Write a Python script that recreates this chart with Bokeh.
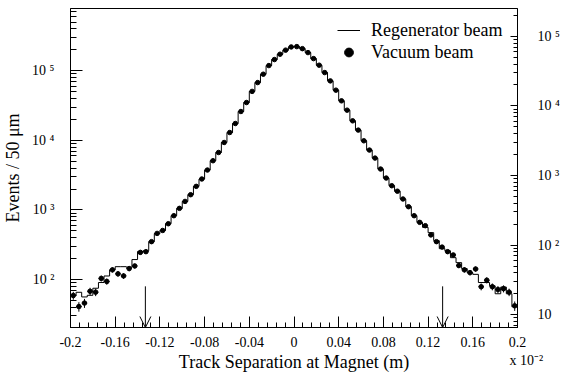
from bokeh.plotting import figure
from bokeh.models import (Range1d, LogAxis, LogScale, FixedTicker, Legend, LegendItem,
                          Arrow, OpenHead, CustomJSTickFormatter)
from bokeh.embed import file_html
from bokeh.resources import INLINE
import numpy as np

# ---- data (x in units of 10^-2 m, 50 um bins) ----
bin_start = -0.2
bin_width = 0.005
vacuum_counts = [59, 41, 46, 68, 66, 104, 94, 138, 121, 113,
                 144, 157, 246, 252, 351, 461, 508, 635, 828, 1055,
                 1328, 1658, 2185, 2788, 3750, 5100, 6700, 9330, 12980, 17470,
                 26000, 35000, 50600, 67700, 89300, 118800, 145000, 173000, 198000, 220000,
                 222500, 208000, 182500, 149600, 120300, 94200, 71600, 52700, 37000, 27200,
                 19100, 14050, 9870, 7260, 5570, 3875, 2877, 2232, 1862, 1439,
                 1114, 828, 664, 595, 438, 351, 293, 252, 226, 159,
                 138, 126, 142, 79, 98, 79, 72, 74, 66, 42]
regenerator_counts = [19, 21, 18, 19, 24, 29, 36, 44, 49, 49,
                      48, 62, 81, 83, 112, 146, 162, 203, 265, 337,
                      424, 530, 698, 891, 1198, 1629, 2141, 2981, 4147, 5581,
                      8307, 11182, 16166, 21629, 28530, 37955, 46326, 55272, 63259, 70288,
                      71086, 66454, 58307, 47796, 38435, 30096, 22875, 16837, 11821, 8690,
                      6102, 4489, 3153, 2319, 1780, 1238, 919, 713, 595, 460,
                      356, 265, 212, 180, 151, 116, 89, 83, 66, 56,
                      46, 40, 38, 29, 29, 26, 20, 25, 20, 13]
x_ticks = [-0.2, -0.16, -0.12, -0.08, -0.04, 0.0, 0.04, 0.08, 0.12, 0.16, 0.2]
x_tick_labels = ["-0.2", "-0.16", "-0.12", "-0.08", "-0.04", "0",
                 "0.04", "0.08", "0.12", "0.16", "0.2"]
x_multiplier = "x 10\u207b\u00b2"
left_ticks = [1e2, 1e3, 1e4, 1e5]
left_tick_labels = ["10 \u00b2", "10 \u00b3", "10 \u2074", "10 \u2075"]
right_ticks = [1e1, 1e2, 1e3, 1e4, 1e5]
right_tick_labels = ["10", "10 \u00b2", "10 \u00b3", "10 \u2074", "10 \u2075"]
cut_positions = [-0.133, 0.133]
cut_arrow_top = 80

FONT = "Liberation Serif"

n = len(vacuum_counts)
edges = bin_start + bin_width * np.arange(n + 1)
centers = 0.5 * (edges[:-1] + edges[1:])
vac = np.array(vacuum_counts, dtype=float)
reg = np.array(regenerator_counts, dtype=float)
verr = np.sqrt(vac)


def lookup_formatter(tvals, tlabels, log=False):
    cmp = ("Math.abs(Math.log10(tv[i]) - Math.log10(tick)) < 1e-6" if log
           else "Math.abs(tv[i] - tick) < 1e-9")
    return CustomJSTickFormatter(args=dict(tv=tvals, tl=tlabels), code=f"""
        for (let i = 0; i < tv.length; i++) {{ if ({cmp}) return tl[i]; }}
        return "";
    """)


p = figure(width=567, height=377, output_backend="svg", toolbar_location=None,
           x_range=Range1d(-0.2, 0.2), y_range=Range1d(20.5, 7.85e5),
           y_axis_type="log",
           min_border_left=66, min_border_right=50, min_border_top=8, min_border_bottom=50)
p.extra_y_ranges = {"regen": Range1d(6.55, 2.51e5)}
p.extra_y_scales = {"regen": LogScale()}

p.grid.visible = False
p.outline_line_color = "black"
p.outline_line_width = 1
p.background_fill_color = "white"
p.border_fill_color = "white"

# x axis: the axis multiplier sits on a second line under the last tick label
xlabels_shown = list(x_tick_labels)
xlabels_shown[-1] = x_tick_labels[-1] + "\n" + "\u00a0" * 5 + x_multiplier
xminor = [round(v, 4) for v in np.arange(-0.2, 0.2001, 0.008)]
xa = p.xaxis[0]
xa.ticker = FixedTicker(ticks=x_ticks, minor_ticks=xminor)
xa.formatter = lookup_formatter(x_ticks, xlabels_shown)
xa.axis_label = "Track Separation at Magnet (m)"

# left y axis
lminor = [m * 10 ** e for e in range(1, 6) for m in range(2, 10)]
ya = p.yaxis[0]
ya.ticker = FixedTicker(ticks=left_ticks, minor_ticks=lminor)
ya.formatter = lookup_formatter(left_ticks, left_tick_labels, log=True)
ya.axis_label = "Events / 50 \u03bcm"

# right y axis
rminor = [m * 10 ** e for e in range(0, 6) for m in range(2, 10)]
ra = LogAxis(y_range_name="regen",
             ticker=FixedTicker(ticks=right_ticks, minor_ticks=rminor),
             formatter=lookup_formatter(right_ticks, right_tick_labels, log=True))
p.add_layout(ra, "right")

for ax in [xa, ya, ra]:
    ax.axis_line_color = "black"
    ax.major_tick_line_color = "black"
    ax.minor_tick_line_color = "black"
    ax.major_tick_out = 0
    ax.minor_tick_out = 0
    ax.major_label_text_font = FONT
    ax.major_label_text_font_size = "14px"
    ax.major_label_text_color = "black"
    ax.axis_label_text_font = FONT
    ax.axis_label_text_font_size = "18px"
    ax.axis_label_text_font_style = "normal"
    ax.axis_label_text_color = "black"

xa.major_tick_in = 11
xa.minor_tick_in = 5
xa.major_label_standoff = 7
xa.axis_label_standoff = -19
ya.major_tick_in = 12
ya.minor_tick_in = 6
ya.major_label_standoff = 16
ya.axis_label_standoff = 6
ra.major_tick_in = 7
ra.minor_tick_in = 4
ra.major_label_standoff = 20
ra.major_label_orientation = "horizontal"

# regenerator histogram (right axis)
p.step(x=edges, y=np.append(reg, reg[-1]), mode="after",
       y_range_name="regen", line_color="black", line_width=1)
# legend stand-in for the histogram (a plain horizontal line)
reg_leg = p.line(x=[np.nan], y=[np.nan], line_color="black", line_width=1)

# vacuum points with errors
p.segment(x0=centers, y0=vac - verr, x1=centers, y1=vac + verr,
          line_color="black", line_width=1)
p.segment(x0=edges[:-1], y0=vac, x1=edges[1:], y1=vac,
          line_color="black", line_width=1)
pts_r = p.scatter(centers, vac, size=4.5, marker="circle",
                  fill_color="black", line_color="black")

# cut arrows
for cx in cut_positions:
    p.add_layout(Arrow(end=OpenHead(size=11, line_width=1, line_color="black"),
                       x_start=cx, y_start=cut_arrow_top, x_end=cx, y_end=20.5,
                       line_color="black", line_width=1))

legend = Legend(items=[LegendItem(label="Regenerator beam", renderers=[reg_leg]),
                       LegendItem(label="Vacuum beam", renderers=[pts_r])],
                location=(267, 264), border_line_color=None, background_fill_alpha=0,
                padding=0, spacing=0, margin=0, glyph_width=23, glyph_height=22,
                label_height=22, label_standoff=11,
                label_text_font=FONT, label_text_font_size="18px",
                label_text_color="black")
p.add_layout(legend)

open("out.html", "w").write(file_html(p, INLINE))
